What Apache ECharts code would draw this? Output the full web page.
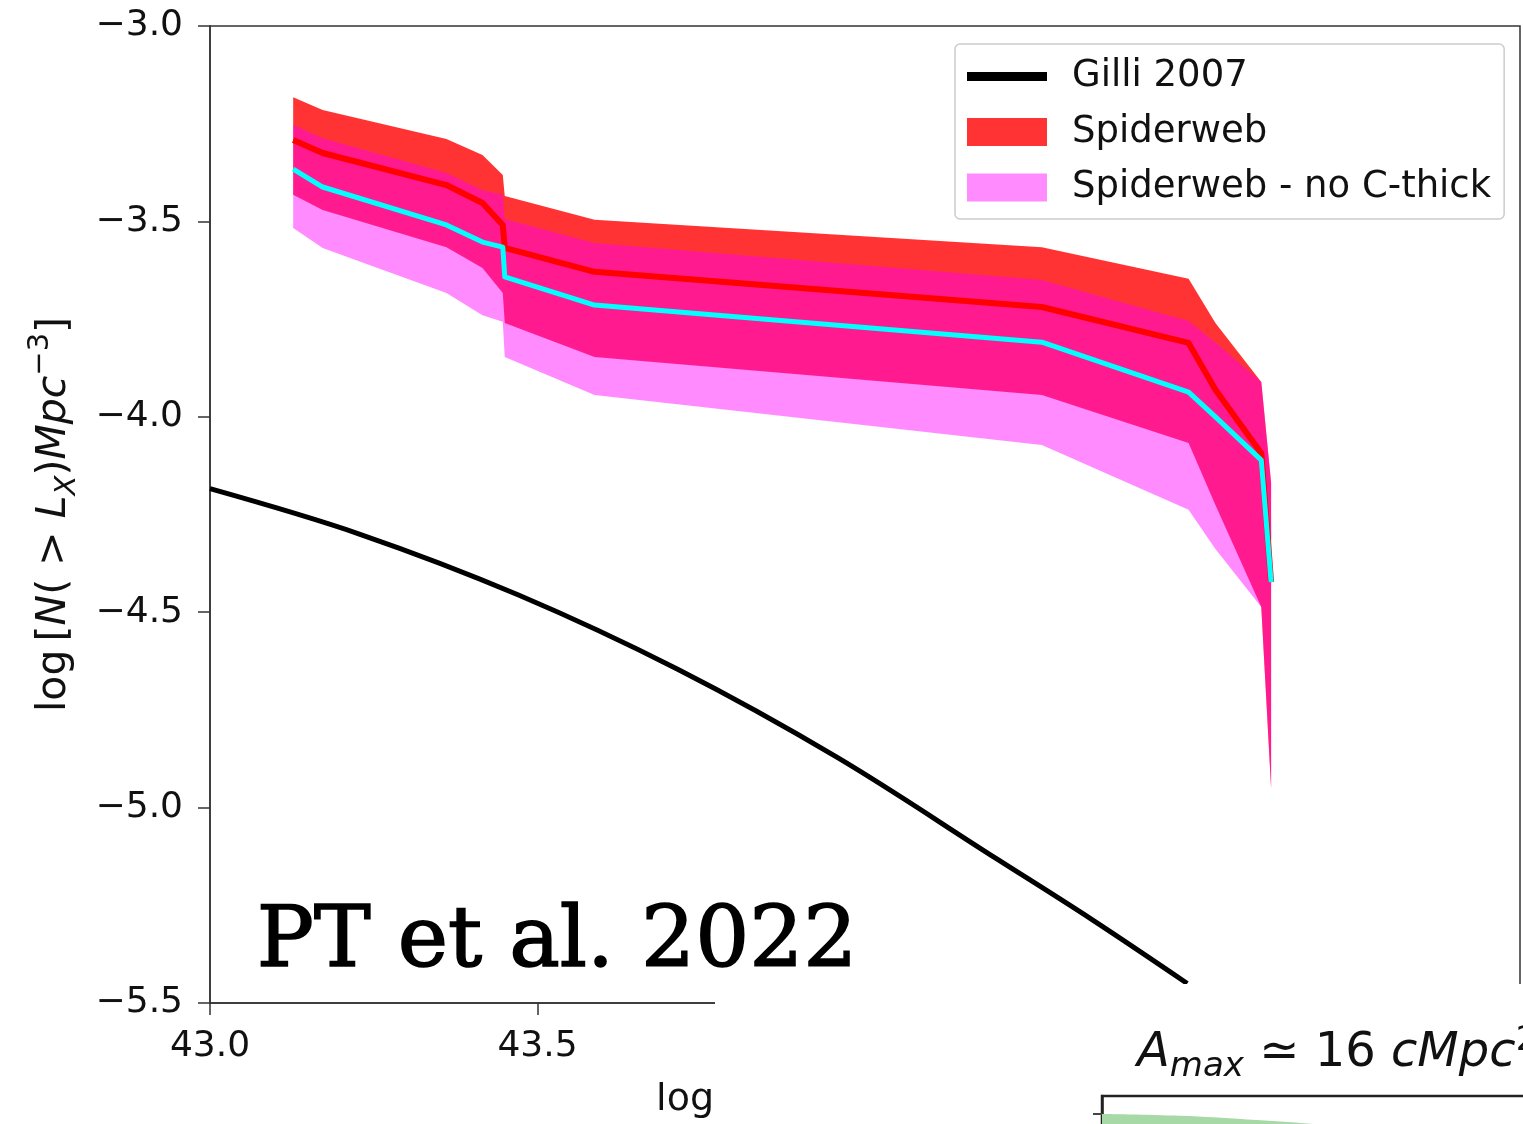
<!DOCTYPE html>
<html>
<head>
<meta charset="utf-8">
<script src="https://cdn.jsdelivr.net/npm/echarts@6/dist/echarts.min.js"></script>
<style>
  html, body { margin: 0; padding: 0; background: #ffffff; overflow: hidden; }
  #main { position: absolute; left: 0; top: 0; width: 1523px; height: 1124px; }
  #inset { position: absolute; left: 715px; top: 984px; width: 808px; height: 140px; background: #ffffff; }
</style>
</head>
<body>
<div id="main"></div>
<div id="inset"></div>
<script>
// Cumulative X-ray luminosity function: log N(>L_X) [Mpc^-3] vs log L_X

// Luminosity grid shared by the Spiderweb bands and their central curves
const bandX = [43.127, 43.172, 43.361, 43.416, 43.447, 43.450, 43.587, 44.270, 44.494, 44.535, 44.605, 44.620];

// Spiderweb (all AGN)
const spiderHigh = [-3.182, -3.215, -3.289, -3.330, -3.381, -3.435, -3.496, -3.566, -3.647, -3.760, -3.911, -4.169];
const spiderMid  = [-3.292, -3.325, -3.407, -3.453, -3.509, -3.568, -3.629, -3.719, -3.811, -3.931, -4.093, -4.423];
const spiderLow  = [-3.432, -3.471, -3.566, -3.619, -3.683, -3.760, -3.847, -3.944, -4.067, -4.226, -4.487, -4.950];

// Spiderweb without Compton-thick sources
const noCtHigh = [-3.253, -3.287, -3.376, -3.420, -3.432, -3.494, -3.555, -3.650, -3.755, -3.809, -3.911, -4.169];
const noCtMid  = [-3.366, -3.412, -3.509, -3.553, -3.566, -3.642, -3.714, -3.809, -3.937, -4.000, -4.111, -4.423];
const noCtLow  = [-3.517, -3.568, -3.683, -3.740, -3.757, -3.847, -3.944, -4.072, -4.238, -4.338, -4.487, -4.950];

// Gilli 2007 field expectation
const gilliX = [43.000, 43.228, 43.471, 43.714, 43.957, 44.200, 44.346, 44.492];
const gilliY = [-4.184, -4.300, -4.456, -4.646, -4.871, -5.130, -5.286, -5.450];

// Axis ticks
const xTicks = { min: 43.0, max: 45.0, step: 0.5 };
const yTicks = { min: -5.5, max: -3.0, step: 0.5 };

// Inset panel: maximum-area curve
const areaX = [0.00, 0.78, 1.45, 2.11, 3.00];
const areaY = [1.00, 0.98, 0.94, 0.89, 0.78];

const SANS = '"DejaVu Sans", sans-serif';
const RED_FILL = 'rgba(255,0,0,0.80)';
const PINK_FILL = 'rgba(255,0,255,0.456)';

function fmtNum(v) {
  const s = Math.abs(v).toFixed(1);
  return v < 0 ? '\u2212' + s : s;
}

function band(name, lo, hi, fill) {
  return {
    type: 'custom',
    name: name,
    itemStyle: { color: fill },
    data: bandX.map((x, i) => [x, lo[i], hi[i]]),
    encode: { x: 0, y: [1, 2] },
    renderItem: function (params, api) {
      if (params.dataIndex !== 0) return null;
      const pts = [];
      for (let i = 0; i < bandX.length; i++) pts.push(api.coord([bandX[i], hi[i]]));
      for (let i = bandX.length - 1; i >= 0; i--) pts.push(api.coord([bandX[i], lo[i]]));
      return { type: 'polygon', shape: { points: pts }, style: { fill: fill } };
    }
  };
}

function curve(name, xs, ys, color, width, smooth) {
  return {
    type: 'line',
    name: name,
    data: xs.map((x, i) => [x, ys[i]]),
    showSymbol: false,
    symbol: 'none',
    smooth: smooth || false,
    itemStyle: { color: color },
    lineStyle: { color: color, width: width, cap: 'butt', join: 'round' },
    emphasis: { disabled: true },
    z: 3
  };
}

const main = echarts.init(document.getElementById('main'), null, { renderer: 'canvas' });

main.setOption({
  animation: false,
  backgroundColor: '#ffffff',
  grid: {
    left: 210, top: 26, right: 3, bottom: 121,
    outerBoundsMode: 'none', containLabel: false,
    show: true, borderColor: '#333333', borderWidth: 1.5, backgroundColor: 'transparent'
  },
  xAxis: {
    type: 'value',
    min: xTicks.min, max: xTicks.max, interval: xTicks.step,
    axisLine: { lineStyle: { color: '#333333', width: 1.5 } },
    axisTick: { length: 12, lineStyle: { color: '#333333', width: 1.5 } },
    splitLine: { show: false },
    axisLabel: { fontFamily: SANS, fontSize: 36, color: '#111111', margin: 26, formatter: fmtNum },
    name: 'log',
    nameLocation: 'middle',
    nameGap: 78,
    nameTextStyle: { fontFamily: SANS, fontSize: 38, color: '#111111', align: 'right', padding: [0, 151, 0, 0] }
  },
  yAxis: {
    type: 'value',
    min: yTicks.min, max: yTicks.max, interval: yTicks.step,
    axisLine: { show: true, lineStyle: { color: '#333333', width: 1.5 } },
    axisTick: { show: true, length: 12, lineStyle: { color: '#333333', width: 1.5 } },
    splitLine: { show: false },
    axisLabel: { fontFamily: SANS, fontSize: 36, color: '#111111', margin: 27, formatter: fmtNum },
    name: '{t|log\u2009[}{i|N}{t|( > }{i|L}{s|X}{t|)}{i|Mpc}{p|\u22123}{t|]}',
    nameLocation: 'middle',
    nameRotate: 90,
    nameGap: 128,
    nameTextStyle: {
      color: '#111111',
      rich: {
        t: { fontFamily: SANS, fontSize: 41, lineHeight: 56, verticalAlign: 'middle', color: '#111111' },
        i: { fontFamily: SANS, fontSize: 41, fontStyle: 'italic', lineHeight: 56, verticalAlign: 'middle', color: '#111111' },
        s: { fontFamily: SANS, fontSize: 29, fontStyle: 'italic', lineHeight: 38, verticalAlign: 'bottom', color: '#111111' },
        p: { fontFamily: SANS, fontSize: 29, lineHeight: 32, verticalAlign: 'top', color: '#111111' }
      }
    }
  },
  legend: {
    orient: 'vertical',
    left: 955, top: 44,
    padding: [14, 13, 13, 12],
    itemGap: 18.5,
    itemWidth: 80, itemHeight: 28,
    backgroundColor: '#ffffff',
    borderColor: '#cccccc', borderWidth: 1.5, borderRadius: 5,
    selectedMode: false,
    textStyle: { fontFamily: SANS, fontSize: 37, lineHeight: 36, color: '#111111', padding: [0, 0, 0, 20] },
    data: [
      { name: 'Gilli 2007', icon: 'path://M0,0H80V9H0Z', itemStyle: { color: '#000000' } },
      { name: 'Spiderweb', icon: 'rect', itemStyle: { color: RED_FILL } },
      { name: 'Spiderweb - no C-thick', icon: 'rect', itemStyle: { color: PINK_FILL } }
    ]
  },
  graphic: [{
    type: 'text',
    left: 256,
    top: 901,
    z: 10,
    style: {
      text: 'PT et al. 2022',
      font: '85px "DejaVu Serif", serif',
      fill: '#000000',
      stroke: '#000000',
      lineWidth: 1.6
    }
  }],
  series: [
    band('Spiderweb', spiderLow, spiderHigh, RED_FILL),
    band('Spiderweb - no C-thick', noCtLow, noCtHigh, PINK_FILL),
    curve('Spiderweb median', bandX, spiderMid, '#ff0000', 6),
    curve('Spiderweb - no C-thick median', bandX, noCtMid, '#00ffff', 5),
    curve('Gilli 2007', gilliX, gilliY, '#000000', 5, 0.35)
  ]
});

// Inset panel below the main axes
const inset = echarts.init(document.getElementById('inset'), null, { renderer: 'canvas' });
inset.setOption({
  animation: false,
  backgroundColor: '#ffffff',
  title: {
    left: 422, top: 40,
    padding: 0,
    text: '{i|A}{s|max}{t| \u2243 16 }{i|cMpc}{p|2}',
    textStyle: {
      fontWeight: 'normal',
      rich: {
        t: { fontFamily: SANS, fontSize: 48, fontWeight: 'normal', lineHeight: 60, verticalAlign: 'middle', color: '#111111' },
        i: { fontFamily: SANS, fontSize: 48, fontWeight: 'normal', fontStyle: 'italic', lineHeight: 60, verticalAlign: 'middle', color: '#111111' },
        s: { fontFamily: SANS, fontSize: 34, fontWeight: 'normal', fontStyle: 'italic', lineHeight: 40, verticalAlign: 'bottom', color: '#111111' },
        p: { fontFamily: SANS, fontSize: 34, fontWeight: 'normal', lineHeight: 36, verticalAlign: 'top', color: '#111111' }
      }
    }
  },
  grid: {
    left: 387, top: 112, width: 1000, height: 108,
    outerBoundsMode: 'none', containLabel: false,
    show: true, borderColor: '#222222', borderWidth: 2.5, backgroundColor: 'transparent'
  },
  xAxis: { type: 'value', min: 0, max: 10, show: false },
  yAxis: {
    type: 'value', min: 0, max: 1.2,
    axisLine: { show: true, lineStyle: { color: '#222222', width: 2.5 } },
    axisTick: { show: true, length: 9, customValues: [1.0], lineStyle: { color: '#444444', width: 2 } },
    axisLabel: { show: false },
    splitLine: { show: false }
  },
  series: [{
    type: 'line',
    data: areaX.map((x, i) => [x, areaY[i]]),
    smooth: 0.4,
    symbol: 'none',
    lineStyle: { width: 0 },
    areaStyle: { color: '#a6d9a6', opacity: 1 },
    z: 1
  }]
});
</script>
</body>
</html>
